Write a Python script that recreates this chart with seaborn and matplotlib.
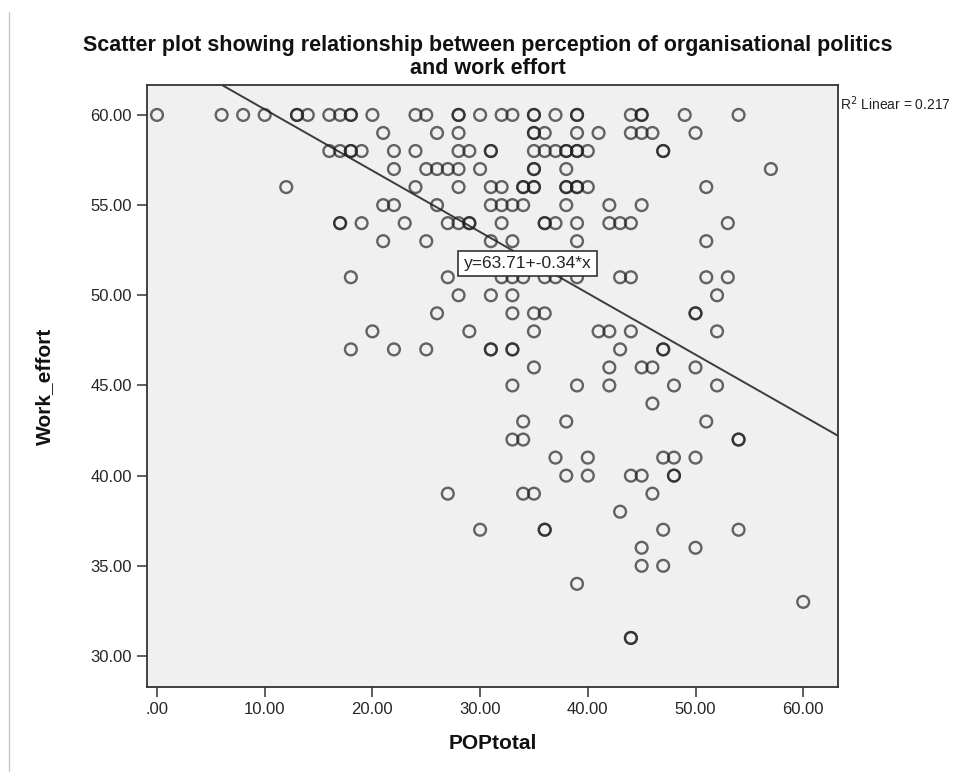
import matplotlib
matplotlib.use("Agg")
import matplotlib.pyplot as plt
import seaborn as sns
import pandas as pd
from matplotlib.lines import Line2D

# ---- data (darker circles = repeated cases) ----
pop_total = [
    0, 6, 8, 10, 13, 13, 14, 16, 17, 18, 18, 20, 24, 25, 28, 28, 30, 32, 33, 35, 35, 37, 39, 39, 44, 45, 45, 49, 54,
    21, 26, 28, 35, 35, 36, 39, 41, 44, 45, 46, 50,
    16, 17, 18, 18, 19, 22, 24, 28, 29, 31, 31, 35, 36, 37, 38, 38, 39, 39, 40, 47, 47,
    22, 25, 26, 27, 28, 30, 35, 35, 38, 57,
    12, 24, 28, 31, 32, 34, 34, 35, 35, 38, 38, 39, 39, 40, 51,
    21, 22, 26, 31, 32, 33, 34, 38, 42, 45,
    17, 17, 19, 23, 27, 28, 29, 29, 32, 36, 36, 37, 39, 42, 43, 44, 53,
    21, 25, 31, 33, 39, 51,
    18, 27, 32, 33, 34, 36, 37, 39, 43, 44, 51, 53,
    28, 31, 33, 52,
    26, 33, 35, 36, 50, 50,
    20, 29, 35, 41, 42, 44, 52,
    18, 22, 25, 31, 31, 33, 33, 43, 47, 47,
    35, 42, 45, 46, 50,
    33, 39, 42, 48, 52,
    46,
    34, 38, 51,
    33, 34, 54, 54,
    37, 40, 47, 48, 50,
    38, 40, 44, 45, 48, 48,
    27, 34, 35, 46,
    43,
    30, 36, 36, 47, 54,
    45, 50,
    45, 47,
    39,
    60,
    44, 44,
]
work_effort = (
    [60] * 29 + [59] * 12 + [58] * 21 + [57] * 10 + [56] * 15 + [55] * 10
    + [54] * 17 + [53] * 6 + [51] * 12 + [50] * 4 + [49] * 6 + [48] * 7
    + [47] * 10 + [46] * 5 + [45] * 5 + [44] * 1 + [43] * 3 + [42] * 4
    + [41] * 5 + [40] * 6 + [39] * 4 + [38] * 1 + [37] * 5 + [36] * 2
    + [35] * 2 + [34] * 1 + [33] * 1 + [31] * 2
)

x_ticks = [0, 10, 20, 30, 40, 50, 60]
x_tick_labels = [".00", "10.00", "20.00", "30.00", "40.00", "50.00", "60.00"]
y_ticks = [30, 35, 40, 45, 50, 55, 60]
y_tick_labels = ["30.00", "35.00", "40.00", "45.00", "50.00", "55.00", "60.00"]

fit_intercept = 63.71
fit_slope = -0.34
r_squared = 0.217

title_line1 = "Scatter plot showing relationship between perception of organisational politics"
title_line2 = "and work effort"

# ---- styling ----
sns.set_theme(style="white")
plt.rcParams['font.family'] = ['Liberation Sans', 'DejaVu Sans']

fig = plt.figure(figsize=(9.76, 7.72), dpi=100)
fig.patch.set_facecolor('white')
ax = fig.add_axes([0.1506, 0.1101, 0.708, 0.7798])
ax.set_facecolor('#f0f0f0')

df = pd.DataFrame({'POPtotal': pop_total, 'Work_effort': work_effort})
sns.scatterplot(data=df, x='POPtotal', y='Work_effort', ax=ax, s=72,
                facecolor='none', edgecolor=(0.12, 0.12, 0.12, 0.68),
                linewidth=1.7, zorder=3, legend=False)

ax.axline((0, fit_intercept), slope=fit_slope, color='#3c3c3c', lw=1.4, zorder=2)

ax.set_xlim(-0.93, 63.23)
ax.set_ylim(28.28, 61.66)
ax.set_xticks(x_ticks)
ax.set_xticklabels(x_tick_labels)
ax.set_yticks(y_ticks)
ax.set_yticklabels(y_tick_labels)
ax.tick_params(axis='both', which='both', bottom=True, left=True, direction='out',
               length=7, width=1.1, color='#333333', labelsize=12,
               labelcolor='#262626', pad=4)

for sp in ax.spines.values():
    sp.set_visible(True)
    sp.set_color('#333333')
    sp.set_linewidth(1.3)

ax.set_xlabel('POPtotal', fontsize=15, fontweight='bold', color='#111111')
ax.set_ylabel('Work_effort', fontsize=15, fontweight='bold', color='#111111')
ax.xaxis.set_label_coords(0.5, -0.078)
ax.yaxis.set_label_coords(-0.135, 0.5)

fig.text(0.5, 1 - 45 / 772, title_line1, ha='center', va='center', fontsize=15.5,
         fontweight='bold', color='#111111')
fig.text(0.5, 1 - 68 / 772, title_line2, ha='center', va='center', fontsize=15.5,
         fontweight='bold', color='#111111')

ax.text(1.003, 0.985, f"R$^2$ Linear = {r_squared:.3f}", transform=ax.transAxes,
        ha='left', va='top', fontsize=10, color='#222222')

ax.text(34.4, 51.75, f"y={fit_intercept:.2f}+{fit_slope:.2f}*x", ha='center', va='center',
        fontsize=12.5, color='#222222', zorder=5,
        bbox=dict(boxstyle='square,pad=0.3', facecolor='white', edgecolor='#333333', lw=1.2))

fig.add_artist(Line2D([0.009, 0.009], [0.0, 0.985], transform=fig.transFigure,
                      color='#c8c8c8', lw=1.0))

fig.savefig('out.png', dpi=100)
